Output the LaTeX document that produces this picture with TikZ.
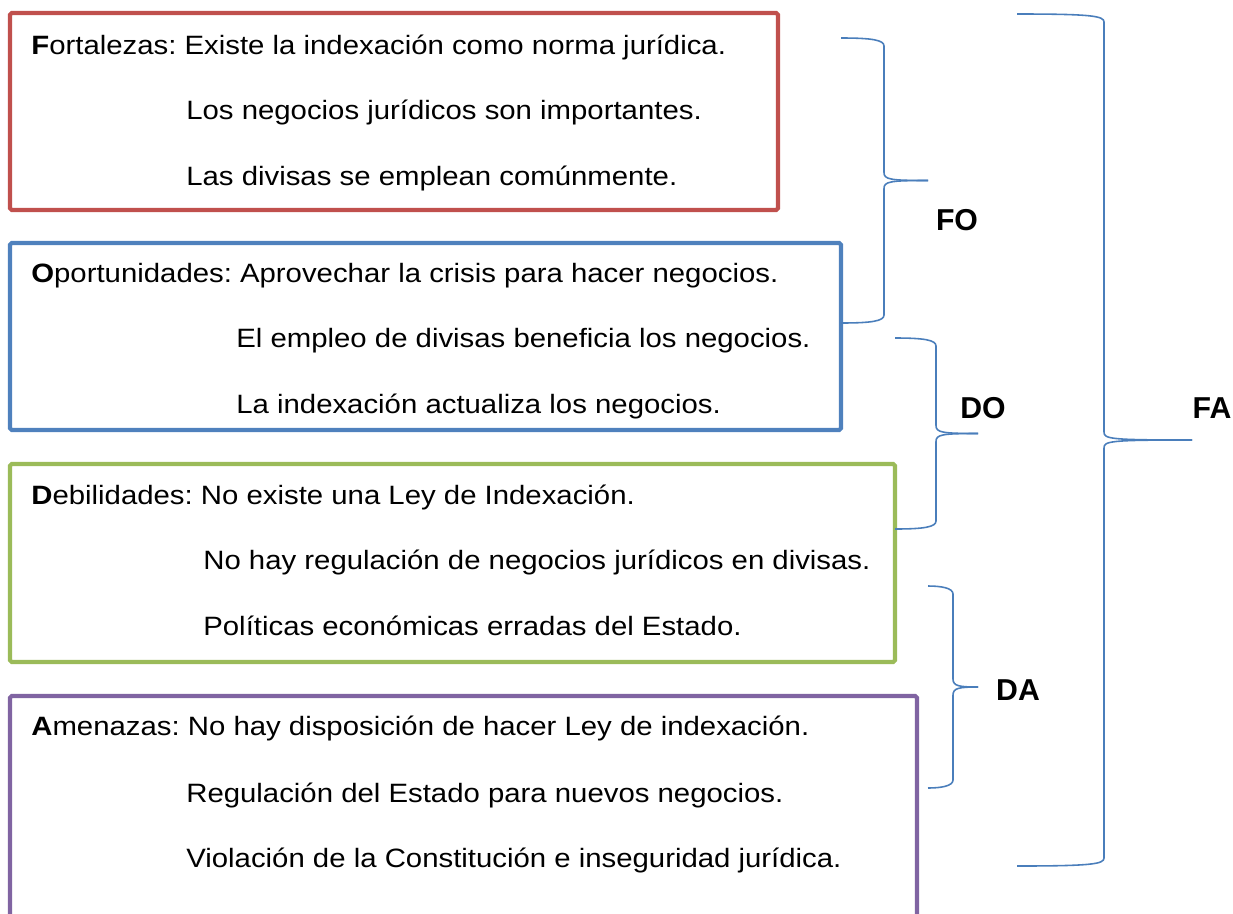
\documentclass[tikz,border=0pt]{standalone}
\usepackage{fontspec}
\setmainfont{Liberation Sans}
\newfontfamily\cuerpo[FakeStretch=1.106]{Liberation Sans}
\definecolor{rojo}{HTML}{C0504D}
\definecolor{azul}{HTML}{4F81BD}
\definecolor{verde}{HTML}{9BBB59}
\definecolor{morado}{HTML}{8064A2}
\definecolor{llavecol}{HTML}{4A7EBB}
\frenchspacing
\tikzset{
  caja/.style={line width=2.3pt, rounded corners=1pt},
  linea/.style={anchor=base west, inner sep=0pt, font=\cuerpo\fontsize{15.1}{18}\selectfont},
  sigla/.style={inner sep=0pt, font=\fontsize{17.2}{20}\selectfont\bfseries},
  llave/.style={llavecol, line width=0.9pt}
}
% llave derecha: #1 = x extremos, #2 = y arriba, #3 = y abajo, #4 = x vertical, #5 = x punta
\newcommand{\llave}[5]{%
  \pgfmathsetmacro{\ym}{(#2+#3)/2}
  \draw[llave] (#1,#2) .. controls (#4-12,#2) and (#4,#2+2) .. (#4,#2+8)
    -- (#4,\ym-8) .. controls (#4,\ym-1) and (#4+6,\ym) .. (#5,\ym);
  \draw[llave] (#1,#3) .. controls (#4-12,#3) and (#4,#3-2) .. (#4,#3-8)
    -- (#4,\ym+8) .. controls (#4,\ym+1) and (#4+6,\ym) .. (#5,\ym);
}
\begin{document}
\begin{tikzpicture}[x=0.02cm, y=-0.02cm]
    \clip (0,0) rectangle (1233,913);
    % cajas
    \draw[caja, rojo] (10,13) rectangle (778,210);
    \draw[caja, azul] (10,243) rectangle (841,430);
    \draw[caja, verde] (10,464) rectangle (895,662);
    \draw[caja, morado] (10,696) rectangle (917,940);
    % fortalezas
    \node[linea] (f1) at (31,54) {\textbf{F}ortalezas: Existe la indexación como norma jurídica.};
    \node[linea] (f2) at (186,119) {Los negocios jurídicos son importantes.};
    \node[linea] (f3) at (186,185) {Las divisas se emplean comúnmente.};
    % oportunidades
    \node[linea] (o1) at (31,282) {\textbf{O}portunidades: Aprovechar la crisis para hacer negocios.};
    \node[linea] (o2) at (236,347) {El empleo de divisas beneficia los negocios.};
    \node[linea] (o3) at (236,413) {La indexación actualiza los negocios.};
    % debilidades
    \node[linea] (d1) at (31,504) {\textbf{D}ebilidades: No existe una Ley de Indexación.};
    \node[linea] (d2) at (203,569) {No hay regulación de negocios jurídicos en divisas.};
    \node[linea] (d3) at (203,635) {Políticas económicas erradas del Estado.};
    % amenazas
    \node[linea] (a1) at (31,735) {\textbf{A}menazas: No hay disposición de hacer Ley de indexación.};
    \node[linea] (a2) at (186,802) {Regulación del Estado para nuevos negocios.};
    \node[linea] (a3) at (186,867) {Violación de la Constitución e inseguridad jurídica.};
    % llaves
    \llave{841}{38}{323}{884}{928}
    \llave{895}{338}{529}{936}{978}
    \llave{928}{586}{788}{953}{978}
    \llave{1017}{14}{866}{1104}{1192}
    \node[sigla] (fo) at (957,220) {FO};
    \node[sigla] (do) at (983,408) {DO};
    \node[sigla] (da) at (1018,690) {DA};
    \node[sigla] (fa) at (1212,408) {FA};
\end{tikzpicture}
\end{document}
